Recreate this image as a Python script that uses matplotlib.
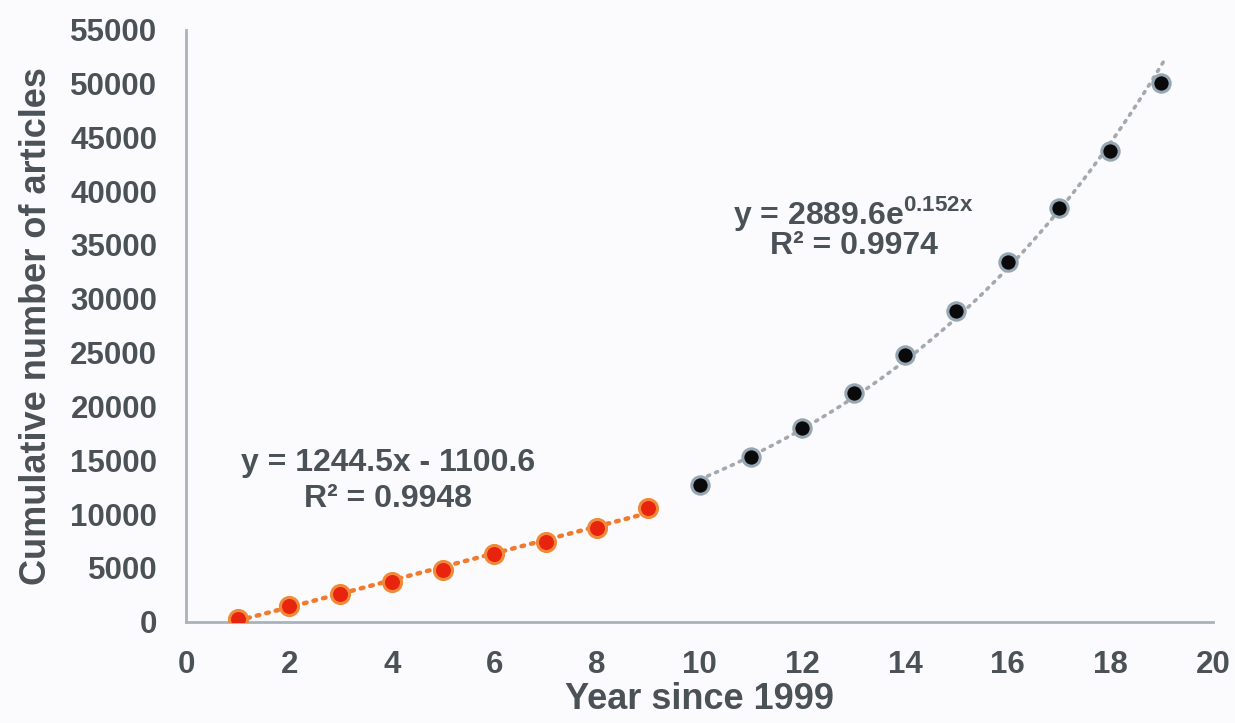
import numpy as np
import matplotlib
matplotlib.use("Agg")
import matplotlib.pyplot as plt

# --- data ---
years_early = [1, 2, 3, 4, 5, 6, 7, 8, 9]
articles_early = [300, 1500, 2600, 3700, 4850, 6250, 7450, 8750, 10550]

years_late = [10, 11, 12, 13, 14, 15, 16, 17, 18, 19]
articles_late = [12700, 15300, 18000, 21250, 24800, 28850, 33400, 38450, 43750, 50050]

x_ticks = list(range(0, 21, 2))
y_ticks = list(range(0, 55001, 5000))

text_col = "#4B5257"
spine_col = "#A8B3BD"
bg = "#FBFBFD"

plt.rcParams["font.family"] = ["Liberation Sans", "DejaVu Sans"]
plt.rcParams["font.weight"] = "bold"
plt.rcParams["mathtext.fontset"] = "custom"
plt.rcParams["mathtext.rm"] = "Liberation Sans:bold"

fig = plt.figure(figsize=(12.35, 7.23), dpi=100, facecolor=bg)
ax = fig.add_axes([0.151, 0.140, 0.831, 0.819], facecolor=bg)

# trend lines fitted from the points
k, b = np.polyfit(years_early, articles_early, 1)
xe = np.linspace(years_early[0], years_early[-1], 50)
ax.plot(xe, k * xe + b, linestyle=(0, (0.6, 1.6)), color="#F07A2E",
        linewidth=3.2, dash_capstyle="round", zorder=2)

r, lna = np.polyfit(years_late, np.log(articles_late), 1)
xl = np.linspace(years_late[0], years_late[-1] + 0.08, 100)
ax.plot(xl, np.exp(lna) * np.exp(r * xl), linestyle=(0, (0.6, 1.8)), color="#A3A9AD",
        linewidth=2.6, dash_capstyle="round", zorder=2)

ax.plot(years_early, articles_early, "o", markersize=13, markerfacecolor="#E8230E",
        markeredgecolor="#F08A3A", markeredgewidth=2.2, linestyle="none", zorder=3)
ax.plot(years_late, articles_late, "o", markersize=12.5, markerfacecolor="#0A0A0A",
        markeredgecolor="#97A6B3", markeredgewidth=2.2, linestyle="none", zorder=3)

# equations
ax.text(3.92, 14750, "y = 1244.5x - 1100.6", ha="center", va="center",
        fontsize=23, color=text_col, fontweight="bold")
ax.text(3.92, 11450, "R² = 0.9948", ha="center", va="center",
        fontsize=23, color=text_col, fontweight="bold")
ax.text(13.0, 37950, r"y = 2889.6e$^{\mathrm{0.152x}}$", ha="center", va="center",
        fontsize=23, color=text_col, fontweight="bold")
ax.text(13.0, 34950, "R² = 0.9974", ha="center", va="center",
        fontsize=23, color=text_col, fontweight="bold")

ax.set_xlim(0, 20)
ax.set_ylim(0, 55000)
ax.set_xticks(x_ticks)
ax.set_yticks(y_ticks)
ax.tick_params(length=0, labelsize=22.5, labelcolor=text_col)
ax.tick_params(axis="x", pad=20)
ax.tick_params(axis="y", pad=21)
for lab in ax.get_xticklabels() + ax.get_yticklabels():
    lab.set_fontweight("bold")

ax.set_xlabel("Year since 1999", fontsize=26, color=text_col, fontweight="bold", labelpad=2)
ax.set_ylabel("Cumulative number of articles", fontsize=26, color=text_col,
              fontweight="bold", labelpad=12)

for s in ["top", "right"]:
    ax.spines[s].set_visible(False)
for s in ["left", "bottom"]:
    ax.spines[s].set_color(spine_col)
    ax.spines[s].set_linewidth(2)

fig.savefig("out.png", dpi=100, facecolor=bg)
